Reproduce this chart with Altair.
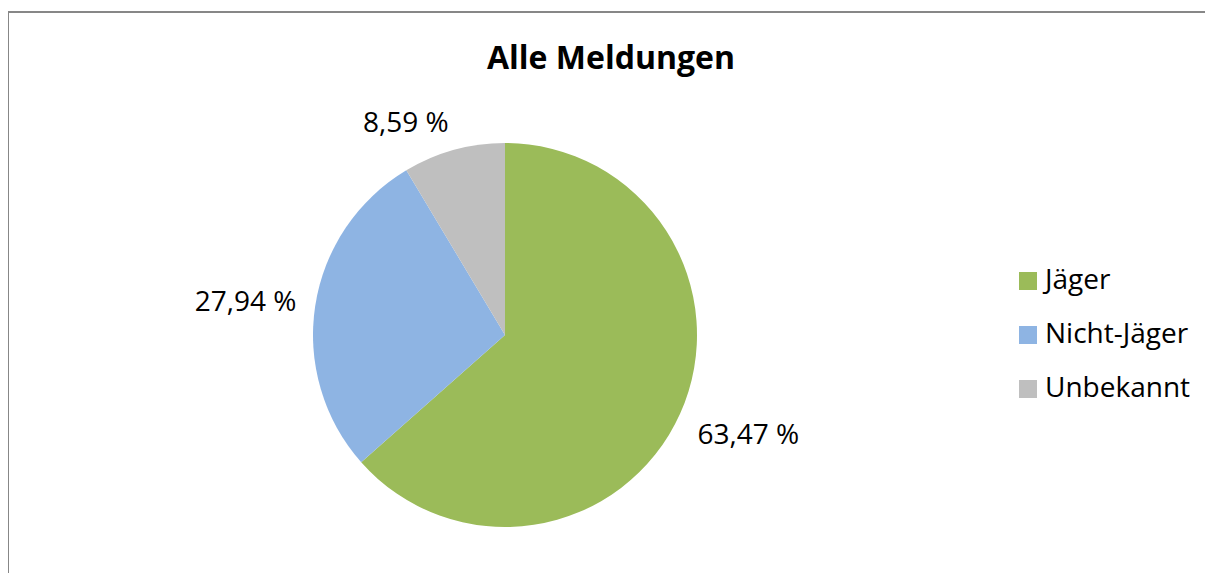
import altair as alt
import pandas as pd

TITLE = "Alle Meldungen"
categories = ["Jäger", "Nicht-Jäger", "Unbekannt"]
values = [63.47, 27.94, 8.59]
labels = ["63,47 %", "27,94 %", "8,59 %"]
colors = ["#9BBB59", "#8EB4E3", "#BFBFBF"]

df = pd.DataFrame({"cat": categories, "value": values, "label": labels,
                   "idx": list(range(len(categories)))})

W, H = 1197, 565
CX, CY, R = 497, 327, 192
FONT = "Open Sans"

base = alt.Chart(df).encode(
    theta=alt.Theta("value:Q", stack=True),
    order=alt.Order("idx:Q"),
)

arcs = base.mark_arc(outerRadius=R).encode(
    x=alt.value(CX), y=alt.value(CY),
    color=alt.Color(
        "cat:N",
        scale=alt.Scale(domain=categories, range=colors),
        sort=categories,
        legend=alt.Legend(
            title=None, orient="none", legendX=1006, legendY=259,
            symbolType="square", symbolSize=324, symbolStrokeWidth=0,
            labelFont=FONT, labelFontSize=28, labelColor="#000000",
            labelOffset=3, rowPadding=26, padding=0,
        ),
    ),
)

texts = base.transform_joinaggregate(
    total="sum(value)"
).transform_window(
    cum="sum(value)", sort=[alt.SortField("idx")], frame=[None, 0]
).transform_calculate(
    ang="2*PI*(datum.cum - datum.value/2)/datum.total"
).mark_text(
    font=FONT, fontSize=28, color="#000000", radius=211,
    align=alt.expr("sin(datum.ang) > 0 ? 'left' : 'right'"),
    baseline=alt.expr("cos(datum.ang) < -0.3 ? 'top' : (cos(datum.ang) > 0.8 ? 'alphabetic' : 'middle')"),
).encode(
    x=alt.value(CX), y=alt.value(CY),
    text="label:N",
)

title = alt.Chart(pd.DataFrame({"t": [TITLE]})).mark_text(
    font=FONT, fontSize=32, fontWeight="bold", color="#000000",
    baseline="alphabetic", align="center",
).encode(text="t:N", x=alt.value(603), y=alt.value(61))

border_top = alt.Chart(pd.DataFrame({"a": [0]})).mark_rule(
    color="#878787", strokeWidth=2
).encode(x=alt.value(0), x2=alt.value(W), y=alt.value(4))

border_left = alt.Chart(pd.DataFrame({"a": [0]})).mark_rule(
    color="#878787", strokeWidth=2
).encode(x=alt.value(0), y=alt.value(3), y2=alt.value(H))

chart = alt.layer(border_top, border_left, arcs, texts, title).properties(
    width=W, height=H,
    autosize=alt.AutoSizeParams(type="none"),
    padding=0,
).configure_view(stroke=None)

chart.save("out.html", embed_options={"renderer": "svg", "actions": False})
